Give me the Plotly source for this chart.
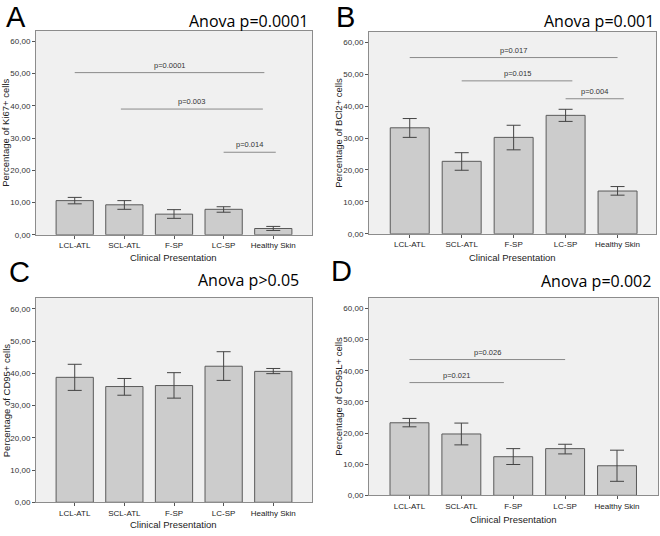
import plotly.graph_objects as go

W, H = 660, 536

categories = ["LCL-ATL", "SCL-ATL", "F-SP", "LC-SP", "Healthy Skin"]
y_tick_vals = [0, 10, 20, 30, 40, 50, 60]
y_tick_text = ["0,00", "10,00", "20,00", "30,00", "40,00", "50,00", "60,00"]

# Panel A: Ki67+
ki67_mean = [10.6, 9.3, 6.4, 7.9, 1.95]
ki67_upper = [11.6, 10.6, 7.8, 8.7, 2.6]
ki67_lower = [9.6, 7.9, 5.1, 7.0, 1.35]
ki67_sig = [(0.0, 3.82, 50.3, "p=0.0001"), (0.93, 3.79, 39.0, "p=0.003"), (3.0, 4.05, 25.6, "p=0.014")]

# Panel B: BCl2+
bcl2_mean = [33.2, 22.7, 30.2, 37.1, 13.4]
bcl2_upper = [36.1, 25.4, 34.0, 39.0, 14.8]
bcl2_lower = [30.2, 19.9, 26.3, 35.2, 12.1]
bcl2_sig = [(0.0, 4.0, 55.2, "p=0.017"), (1.0, 3.13, 47.9, "p=0.015"), (3.0, 4.12, 42.3, "p=0.004")]

# Panel C: CD95+
cd95_mean = [38.75, 35.9, 36.2, 42.2, 40.6]
cd95_upper = [42.8, 38.4, 40.2, 46.7, 41.5]
cd95_lower = [34.7, 33.2, 32.3, 37.8, 39.9]
cd95_sig = []

# Panel D: CD95L+
cd95l_mean = [23.3, 19.7, 12.4, 15.0, 9.5]
cd95l_upper = [24.7, 23.2, 15.0, 16.4, 14.5]
cd95l_lower = [22.0, 16.2, 9.9, 13.3, 4.5]
cd95l_sig = [(0.0, 3.0, 43.6, "p=0.026"), (0.0, 1.82, 36.2, "p=0.021")]

panels = [
    dict(letter="A", anova="Anova p=0.0001", ytitle="Percentage of Ki67+ cells",
         mean=ki67_mean, up=ki67_upper, lo=ki67_lower, sig=ki67_sig,
         px=(36, 312), py=(31, 237), xr=(-0.78, 4.78),
         letter_pos=(5, 0), anova_pos=(310, 21), xtitle_y=260, ytitle_x=6),
    dict(letter="B", anova="Anova p=0.001", ytitle="Percentage of BCl2+ cells",
         mean=bcl2_mean, up=bcl2_upper, lo=bcl2_lower, sig=bcl2_sig,
         px=(369, 656), py=(32, 236), xr=(-0.784, 4.74),
         letter_pos=(335, 0), anova_pos=(656, 21.5), xtitle_y=260, ytitle_x=339),
    dict(letter="C", anova="Anova p>0.05", ytitle="Percentage of CD95+ cells",
         mean=cd95_mean, up=cd95_upper, lo=cd95_lower, sig=cd95_sig,
         px=(36, 312), py=(301, 507), xr=(-0.78, 4.78),
         letter_pos=(8, 257), anova_pos=(301, 282.5), xtitle_y=529, ytitle_x=6),
    dict(letter="D", anova="Anova p=0.002", ytitle="Percentage of CD95L+ cells",
         mean=cd95l_mean, up=cd95l_upper, lo=cd95l_lower, sig=cd95l_sig,
         px=(369, 658), py=(301, 500), xr=(-0.78, 4.79),
         letter_pos=(330, 256.5), anova_pos=(653, 283.5), xtitle_y=524, ytitle_x=339),
]

fig = go.Figure()
annotations = []
FONT = "Liberation Sans"

for i, p in enumerate(panels):
    n = "" if i == 0 else str(i + 1)
    xa, ya = "x" + n, "y" + n
    xs = list(range(len(categories)))
    fig.add_trace(go.Bar(
        x=xs, y=p["mean"], xaxis=xa, yaxis=ya, width=0.75,
        marker=dict(color="#cccccc", line=dict(color="#5a5a5a", width=1)),
        error_y=dict(type="data", symmetric=False,
                     array=[u - m for u, m in zip(p["up"], p["mean"])],
                     arrayminus=[m - l for m, l in zip(p["mean"], p["lo"])],
                     color="#444444", thickness=1, width=7),
        showlegend=False, hoverinfo="skip"))
    for (x0, x1, yv, lab) in p["sig"]:
        fig.add_trace(go.Scatter(x=[x0, x1], y=[yv, yv], xaxis=xa, yaxis=ya, mode="lines",
                                 line=dict(color="#8a8a8a", width=1), showlegend=False,
                                 hoverinfo="skip"))
        annotations.append(dict(x=(x0 + x1) / 2, y=yv, xref=xa, yref=ya, text=lab,
                                showarrow=False, yanchor="bottom", yshift=1,
                                font=dict(family=FONT, size=7.5, color="#333333")))
    x0p, x1p = p["px"]
    y0p, y1p = p["py"]
    fig.update_layout(**{
        ("xaxis" + n): dict(domain=[x0p / W, x1p / W], anchor=ya, range=list(p["xr"]),
                            tickvals=xs, ticktext=categories, ticks="outside", ticklen=3,
                            tickcolor="#555555", showgrid=False, zeroline=False,
                            showline=True, linecolor="#8c8c8c", linewidth=1, mirror=True,
                            tickfont=dict(family=FONT, size=8, color="#222222"),
                            fixedrange=True),
        ("yaxis" + n): dict(domain=[1 - y1p / H, 1 - y0p / H], anchor=xa, range=[0, 63.3],
                            tickvals=y_tick_vals, ticktext=y_tick_text, ticks="outside",
                            ticklen=3, tickcolor="#555555", showgrid=False, zeroline=False,
                            showline=True, linecolor="#8c8c8c", linewidth=1, mirror=True,
                            tickfont=dict(family=FONT, size=8, color="#333333"),
                            fixedrange=True),
    })
    fig.add_shape(type="rect", xref=xa + " domain", yref=ya + " domain", x0=0, x1=1, y0=0, y1=1,
                  fillcolor="#f0f0f0", line=dict(width=0), layer="below")
    lx, ly = p["letter_pos"]
    annotations.append(dict(x=lx / W, y=1 - ly / H, xref="paper", yref="paper", text=p["letter"],
                            showarrow=False, xanchor="left", yanchor="top", borderpad=0,
                            font=dict(family=FONT, size=29, color="#000000")))
    ax_, ay_ = p["anova_pos"]
    annotations.append(dict(x=ax_ / W, y=1 - ay_ / H, xref="paper", yref="paper", text=p["anova"],
                            showarrow=False, xanchor="right", yanchor="middle",
                            font=dict(family="Open Sans", size=16, color="#000000")))
    annotations.append(dict(x=(x0p + x1p) / 2 / W, y=1 - p["xtitle_y"] / H, xref="paper",
                            yref="paper", text="Clinical Presentation", showarrow=False,
                            xanchor="center", yanchor="middle",
                            font=dict(family=FONT, size=9.5, color="#222222")))
    annotations.append(dict(x=p["ytitle_x"] / W, y=1 - (y0p + y1p) / 2 / H, xref="paper",
                            yref="paper", text=p["ytitle"], showarrow=False, textangle=-90,
                            xanchor="center", yanchor="middle",
                            font=dict(family=FONT, size=9.5, color="#222222")))

fig.update_layout(width=W, height=H, margin=dict(l=0, r=0, t=0, b=0),
                  paper_bgcolor="white", plot_bgcolor="#f0f0f0",
                  annotations=annotations, bargap=0.25)

fig.write_html("out.html", config={"displayModeBar": False},
               post_script="document.body.style.margin='0';document.body.style.overflow='hidden';")
